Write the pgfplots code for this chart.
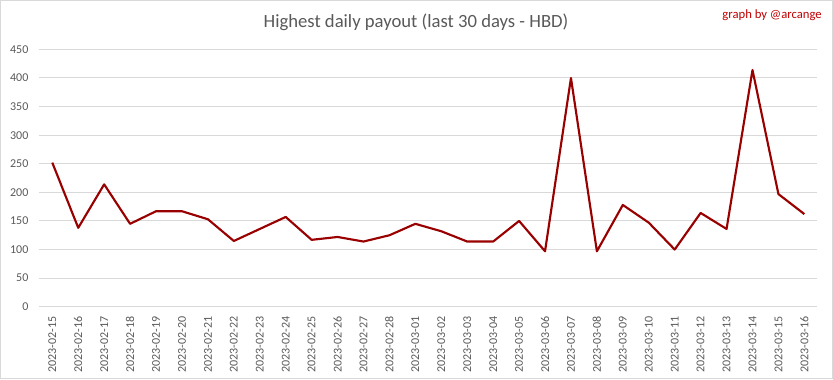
\documentclass[border=0pt]{standalone}
\usepackage{pgfplots}
\pgfplotsset{compat=1.18}
\usepackage{fontspec}
\setmainfont{Carlito}
\definecolor{gridgray}{HTML}{D9D9D9}
\definecolor{txtgray}{HTML}{595959}
\definecolor{linered}{HTML}{990000}
\definecolor{credred}{HTML}{C00000}
\begin{document}
\begin{tikzpicture}
\draw[gridgray, line width=0.75pt] (0.375pt,0.375pt) rectangle (624.375pt,283.875pt);
\node[font=\fontsize{14pt}{16pt}\selectfont, text=txtgray, anchor=center] at (312pt,267.75pt) {Highest daily payout (last 30 days - HBD)};
\node[font=\fontsize{9.5pt}{11pt}\selectfont, text=credred, anchor=east, inner sep=0pt] at (616.5pt,273pt) {graph by @arcange};
\begin{axis}[
  at={(29.5pt,54.2pt)}, anchor=south west,
  scale only axis, width=583.5pt, height=193pt,
  xmin=-0.5, xmax=29.5, ymin=0, ymax=450,
  ytick={0,50,...,450},
  xtick={0,...,29},
  xticklabels={2023-02-15,2023-02-16,2023-02-17,2023-02-18,2023-02-19,2023-02-20,2023-02-21,2023-02-22,2023-02-23,2023-02-24,2023-02-25,2023-02-26,2023-02-27,2023-02-28,2023-03-01,2023-03-02,2023-03-03,2023-03-04,2023-03-05,2023-03-06,2023-03-07,2023-03-08,2023-03-09,2023-03-10,2023-03-11,2023-03-12,2023-03-13,2023-03-14,2023-03-15,2023-03-16},
  axis line style={draw=none},
  ymajorgrids, grid style={color=gridgray, line width=0.75pt},
  major tick length=0pt,
  /pgf/number format/assume math mode=true,
  tick label style={font=\fontsize{9pt}{10pt}\selectfont, text=txtgray},
  yticklabel style={anchor=east, inner sep=0pt, xshift=-8pt},
  xticklabel style={rotate=90, anchor=east, inner sep=0pt, xshift=-7pt},
  clip=false,
]
\addplot[linered, line width=1.6pt, mark=none, line join=round] coordinates {
(0,252) (1,138) (2,214) (3,145) (4,167) (5,167) (6,153) (7,115) (8,136) (9,157)
(10,117) (11,122) (12,114) (13,125) (14,145) (15,132) (16,114) (17,114) (18,150) (19,97)
(20,400) (21,97) (22,178) (23,147) (24,100) (25,164) (26,136) (27,414) (28,197) (29,162)
};
\end{axis}
\end{tikzpicture}
\end{document}
